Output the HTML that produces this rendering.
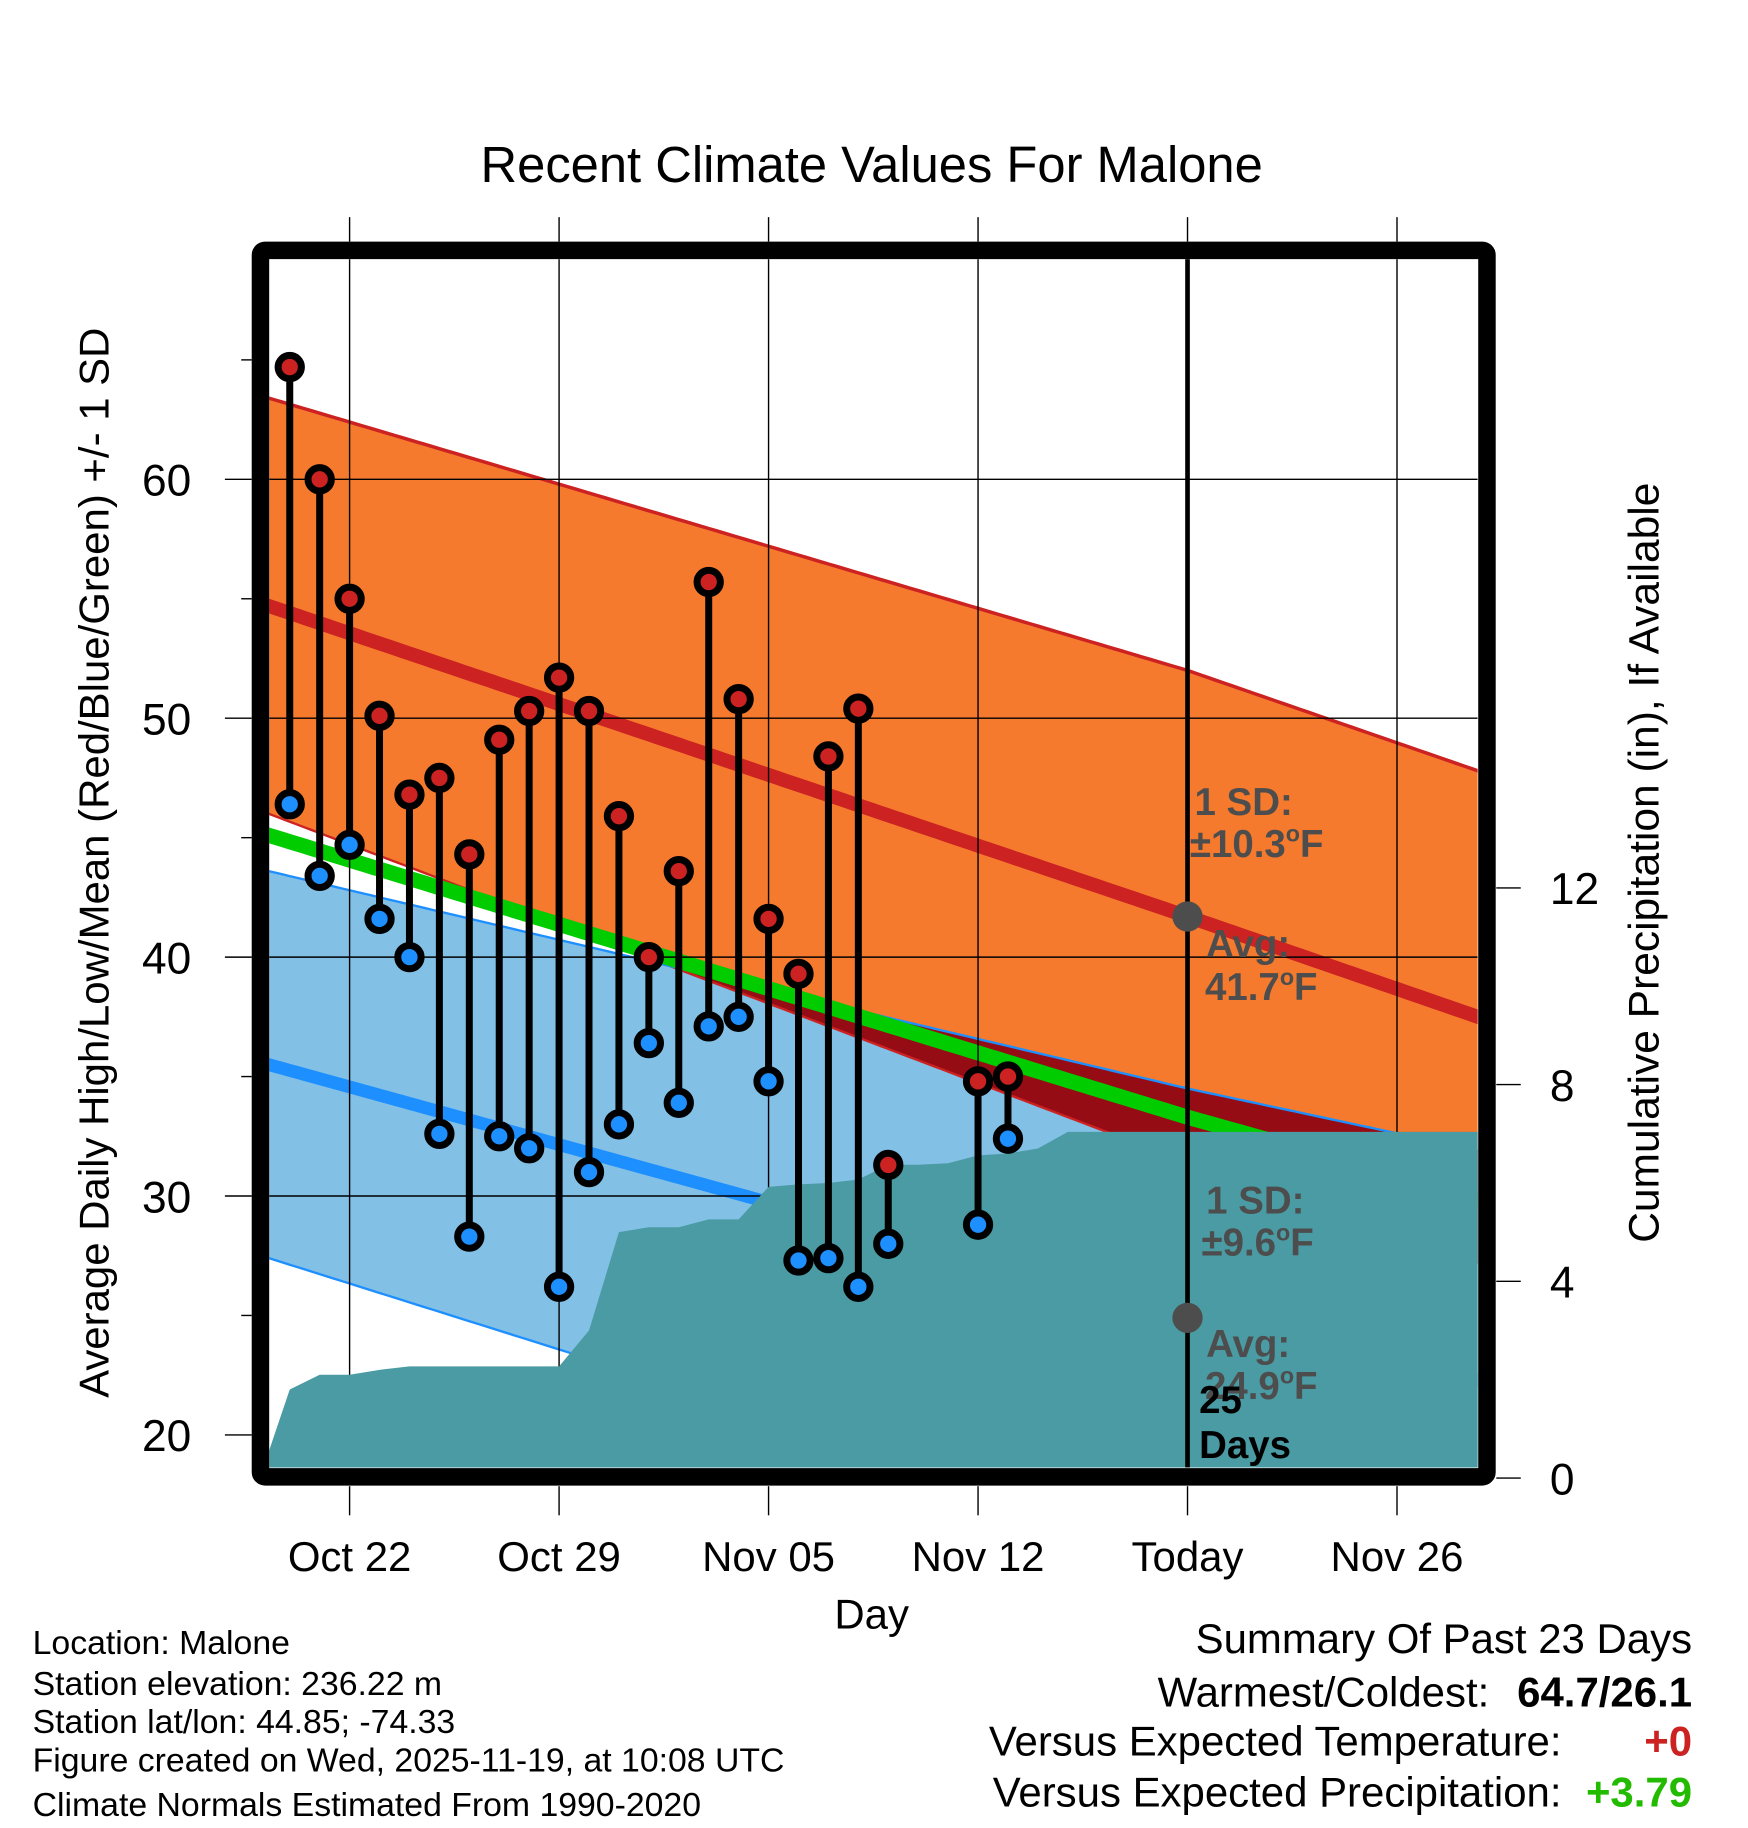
<!DOCTYPE html>
<html><head><meta charset="utf-8"><style>
html,body{margin:0;padding:0;background:#fff;}
svg{display:block;font-family:"Liberation Sans",Arial,sans-serif;}
</style></head><body>
<svg id="chart" width="1748" height="1828" viewBox="0 0 1500 1568" xmlns="http://www.w3.org/2000/svg">
<defs><clipPath id="plotclip"><rect x="231" y="222" width="1037" height="1037"/></clipPath></defs>
<text x="748" y="156" font-size="43.5" text-anchor="middle">Recent Climate Values For Malone</text>
<g id="plot" clip-path="url(#plotclip)"></g>
<g id="over"></g>
<rect x="223.5" y="214.5" width="1052.5" height="1052.5" rx="4" fill="none" stroke="#000" stroke-width="15"/>
<g id="axes"></g>
<text transform="translate(93,740) rotate(-90)" font-size="36" text-anchor="middle">Average Daily High/Low/Mean (Red/Blue/Green) +/- 1 SD</text>
<text transform="translate(1423,740) rotate(-90)" font-size="36.5" text-anchor="middle">Cumulative Precipitation (in), If Available</text>
<text x="748" y="1397" font-size="36" text-anchor="middle">Day</text>
<g font-size="29">
<text x="28" y="1419">Location: Malone</text>
<text x="28" y="1454">Station elevation: 236.22 m</text>
<text x="28" y="1487">Station lat/lon: 44.85; -74.33</text>
<text x="28" y="1520">Figure created on Wed, 2025-11-19, at 10:08 UTC</text>
<text x="28" y="1558">Climate Normals Estimated From 1990-2020</text>
</g>
<g font-size="36">
<text x="1452" y="1418" text-anchor="end">Summary Of Past 23 Days</text>
<text x="1278" y="1464" text-anchor="end">Warmest/Coldest:</text>
<text x="1452" y="1464" text-anchor="end" font-weight="bold">64.7/26.1</text>
<text x="1340" y="1506" text-anchor="end">Versus Expected Temperature:</text>
<text x="1452" y="1506" text-anchor="end" font-weight="bold" fill="#cc2222">+0</text>
<text x="1340" y="1550" text-anchor="end">Versus Expected Precipitation:</text>
<text x="1452" y="1550" text-anchor="end" font-weight="bold" fill="#22bb00">+3.79</text>
</g>
</svg>
<script>
// day offsets are relative to Oct 22
const obsDays = [-2,-1,0,1,2,3,4,5,6,7,8,9,10,11,12,13,14,15,16,17,18,19,20,21,22];
const highs = [64.7,60.0,55.0,50.1,46.8,47.5,44.3,49.1,50.3,51.7,50.3,45.9,40.0,43.6,55.7,50.8,41.6,39.3,48.4,50.4,31.3,null,null,34.8,35.0];
const lows  = [46.4,43.4,44.7,41.6,40.0,32.6,28.3,32.5,32.0,26.2,31.0,33.0,36.4,33.9,37.1,37.5,34.8,27.3,27.4,26.2,28.0,null,null,28.8,32.4];
const normDays = [-2.7,28,37.7];
const normHighMean = [54.7,41.7,37.5];
const normHighSD = [8.7,10.3,10.3];
const normLowMean = [35.5,24.9,22.3];
const normLowSD = [8.1,9.6,9.6];
const precipDays = [-3,-2,-1,0,1,2,3,4,5,6,7,8,9,10,11,12,13,14,15,16,17,18,19,20,21,22,23,24,38];
const precip = [0,1.8,2.1,2.1,2.2,2.27,2.27,2.27,2.27,2.27,2.27,3.0,5.0,5.1,5.1,5.26,5.26,5.92,5.97,6.0,6.07,6.37,6.37,6.4,6.56,6.6,6.7,7.04,7.04];
const xTickDays = [0,7,14,21,28,35];
const xTickLabels = ["Oct 22","Oct 29","Nov 05","Nov 12","Today","Nov 26"];
const yTicks = [20,30,40,50,60];
const yMinor = [25,35,45,55,65];
const y2Ticks = [0,4,8,12];
const todayDay = 28;

const X = d => 300 + d*25.68;
const Y = t => 411 - (t-60)*20.5;
const Y2 = p => 1268 - p*42.2;
const NS = "http://www.w3.org/2000/svg";
function mk(tag, attrs, parent){const e=document.createElementNS(NS,tag);for(const k in attrs)e.setAttribute(k,attrs[k]);parent.appendChild(e);return e;}
function interp(arrX, arrY, d){
  if(d<=arrX[0]) return arrY[0]+(arrY[1]-arrY[0])*(d-arrX[0])/(arrX[1]-arrX[0]);
  for(let i=0;i<arrX.length-1;i++){ if(d<=arrX[i+1]) return arrY[i]+(arrY[i+1]-arrY[i])*(d-arrX[i])/(arrX[i+1]-arrX[i]); }
  const n=arrX.length; return arrY[n-1]+(arrY[n-1]-arrY[n-2])*(d-arrX[n-1])/(arrX[n-1]-arrX[n-2]);
}
const plot=document.getElementById('plot'), over=document.getElementById('over'), axes=document.getElementById('axes');
const samples=[]; for(let d=-3; d<=38.01; d+=0.25) samples.push(d);
const hm=d=>interp(normDays,normHighMean,d), hs=d=>interp(normDays,normHighSD,d);
const lm=d=>interp(normDays,normLowMean,d), ls=d=>interp(normDays,normLowSD,d);
function band(fu, fl){let p=samples.map(d=>X(d)+","+Y(fu(d))); p=p.concat(samples.slice().reverse().map(d=>X(d)+","+Y(fl(d)))); return p.join(" ");}
function line(f){return samples.map(d=>X(d)+","+Y(f(d))).join(" ");}

let e;
e=mk('polygon',{points:band(d=>hm(d)+hs(d),d=>hm(d)-hs(d)),fill:'#f57a2e'},plot);
 
e=mk('polygon',{points:band(d=>lm(d)+ls(d),d=>lm(d)-ls(d)),fill:'#82c0e6'},plot);
 
e=mk('polygon',{points:band(d=>Math.max(lm(d)+ls(d),hm(d)-hs(d)),d=>hm(d)-hs(d)),fill:'#960c14'},plot);
 
e=mk('polyline',{points:line(d=>hm(d)+hs(d)),fill:'none',stroke:'#cc2222','stroke-width':3},plot);
 
e=mk('polyline',{points:line(d=>hm(d)-hs(d)),fill:'none',stroke:'#cc2222','stroke-width':2},plot);
 
e=mk('polyline',{points:line(d=>lm(d)+ls(d)),fill:'none',stroke:'#1e8fff','stroke-width':2},plot);
 
e=mk('polyline',{points:line(d=>lm(d)-ls(d)),fill:'none',stroke:'#1e8fff','stroke-width':2},plot);
 
e=mk('polyline',{points:line(hm),fill:'none',stroke:'#cc2222','stroke-width':12},plot);
 
e=mk('polyline',{points:line(lm),fill:'none',stroke:'#1e8fff','stroke-width':11},plot);
 
e=mk('polyline',{points:line(d=>(hm(d)+lm(d))/2),fill:'none',stroke:'#00cc00','stroke-width':13},plot);
 

yTicks.forEach(t=>{ if(t>20){ e=mk('line',{x1:231,x2:1268,y1:Y(t),y2:Y(t),stroke:'#000','stroke-width':1.2},plot);
  }});
xTickDays.forEach(d=>{ e=mk('line',{x1:X(d),x2:X(d),y1:222,y2:1259,stroke:'#000','stroke-width':1.2},plot);
  });

let pp=precipDays.map((d,i)=>X(d)+","+Y2(precip[i]));
pp.push(X(precipDays[precipDays.length-1])+","+Y2(0)); pp.push(X(precipDays[0])+","+Y2(0));
e=mk('polygon',{points:pp.join(" "),fill:'#4a9ba4'},plot);
 

e=mk('line',{x1:X(todayDay),x2:X(todayDay),y1:222,y2:1259,stroke:'#000','stroke-width':4},plot);
 

obsDays.forEach((d,i)=>{
  if(highs[i]==null||lows[i]==null) return;
  const g=mk('g',{},over);
   
  e=mk('line',{x1:X(d),x2:X(d),y1:Y(highs[i]),y2:Y(lows[i]),stroke:'#000','stroke-width':6},g);
   
  e=mk('circle',{cx:X(d),cy:Y(highs[i]),r:10,fill:'#cc2222',stroke:'#000','stroke-width':6},g);
   
  e=mk('circle',{cx:X(d),cy:Y(lows[i]),r:10,fill:'#1e8fff',stroke:'#000','stroke-width':6},g);
   
});

const tx=X(todayDay);
e=mk('circle',{cx:tx,cy:Y(hm(todayDay)),r:13,fill:'#4d4d4d'},over);
 
e=mk('circle',{cx:tx,cy:Y(lm(todayDay)),r:13,fill:'#4d4d4d'},over);
 
const ann=[[tx+6,699,"1 SD:"],[tx+2,735,"±10.3","F"],[tx+16,821,"Avg:"],[tx+15,858,"41.7","F"],
           [tx+16,1041,"1 SD:"],[tx+12,1077,"±9.6","F"],[tx+16,1164,"Avg:"],[tx+15,1200,"24.9","F"]];
ann.forEach(a=>{
  const t=mk('text',{x:a[0],y:a[1],'font-size':33,'font-weight':'bold',fill:'#4d4d4d'},over);
   
  t.textContent=a[2];
  if(a[3]){ const s=mk('tspan',{'font-size':20,dy:-13},t); s.textContent='o'; const f=mk('tspan',{dy:13},t); f.textContent='F'; }
});
e=mk('text',{x:tx+10,y:1212,'font-size':33,'font-weight':'bold',fill:'#000'},over); e.textContent='25';
 
e=mk('text',{x:tx+10,y:1251,'font-size':33,'font-weight':'bold',fill:'#000'},over); e.textContent='Days';
 

yTicks.forEach(t=>{
  e=mk('line',{x1:193,x2:216,y1:Y(t),y2:Y(t),stroke:'#000','stroke-width':1.2},axes);
   
  e=mk('text',{x:143,y:Y(t)+14,'font-size':38,'text-anchor':'middle'},axes); e.textContent=t;
   
});
yMinor.forEach(t=>{ e=mk('line',{x1:207,x2:216,y1:Y(t),y2:Y(t),stroke:'#000','stroke-width':1.2},axes);
    });
y2Ticks.forEach(p=>{
  e=mk('line',{x1:1284,x2:1305,y1:Y2(p),y2:Y2(p),stroke:'#000','stroke-width':1.2},axes);
   
  e=mk('text',{x:1330,y:Y2(p)+14,'font-size':38},axes); e.textContent=p;
   
});
xTickDays.forEach((d,i)=>{
  e=mk('line',{x1:X(d),x2:X(d),y1:186,y2:207,stroke:'#000','stroke-width':1.2},axes);
   
  e=mk('line',{x1:X(d),x2:X(d),y1:1275,y2:1300,stroke:'#000','stroke-width':1.2},axes);
   
  e=mk('text',{x:X(d),y:1348,'font-size':36,'text-anchor':'middle'},axes); e.textContent=xTickLabels[i];
   
});
</script>
</body></html>
